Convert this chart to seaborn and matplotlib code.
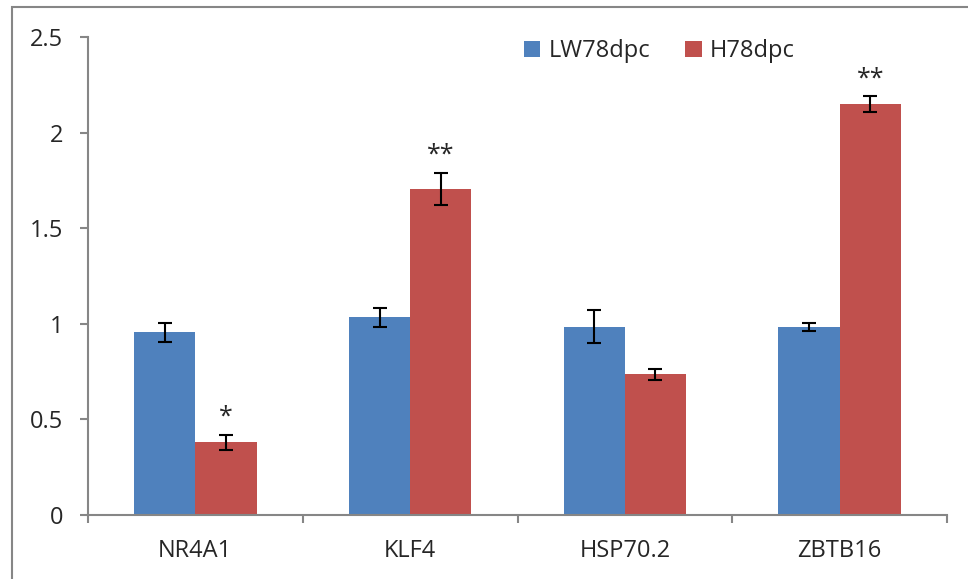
import matplotlib
matplotlib.use("Agg")
import matplotlib.pyplot as plt
import pandas as pd
import seaborn as sns
from matplotlib.patches import Rectangle

# values
genes = ["NR4A1", "KLF4", "HSP70.2", "ZBTB16"]
groups = ["LW78dpc", "H78dpc"]
lw_mean = [0.955, 1.035, 0.985, 0.982]
lw_err = [0.05, 0.05, 0.085, 0.02]
h_mean = [0.38, 1.705, 0.735, 2.15]
h_err = [0.04, 0.085, 0.028, 0.04]
h_stars = ["*", "**", "", "**"]

colors = ["#4F81BD", "#C0504D"]
grey = "#868686"

df = pd.DataFrame({
    "gene": genes * 2,
    "group": [groups[0]] * 4 + [groups[1]] * 4,
    "value": lw_mean + h_mean,
    "err": lw_err + h_err,
})

sns.set_style("white")
plt.rcParams["font.family"] = ["Open Sans", "DejaVu Sans"]

fig = plt.figure(figsize=(9.68, 5.79), dpi=100)
ax = fig.add_axes([88 / 968, 1 - 515 / 579, (947 - 88) / 968, (515 - 37) / 579])

sns.barplot(data=df, x="gene", y="value", hue="group", palette=colors,
            width=0.57, gap=0, errorbar=None, ax=ax, saturation=1,
            edgecolor="none")

# error bars placed on the bar centres that seaborn drew
for cont, sub in zip(ax.containers, [lw_err, h_err]):
    xs = [p.get_x() + p.get_width() / 2 for p in cont.patches]
    ys = [p.get_height() for p in cont.patches]
    ax.errorbar(xs, ys, yerr=sub, fmt="none", ecolor="black",
                elinewidth=1.5, capsize=5, capthick=1.5, zorder=5)

# significance stars over the H78dpc bars
for p, m, e, s in zip(ax.containers[1].patches, h_mean, h_err, h_stars):
    if s:
        ax.text(p.get_x() + p.get_width() / 2, m + e + 0.025, s,
                ha="center", va="bottom", fontsize=18)

ax.set_ylim(0, 2.5)
ax.set_xlim(-0.5, 3.5)
ax.set_yticks([0, 0.5, 1, 1.5, 2, 2.5])
ax.set_yticklabels(["0", "0.5", "1", "1.5", "2", "2.5"])
ax.set_xticks(range(4))
ax.set_xticks([-0.5, 0.5, 1.5, 2.5, 3.5], minor=True)
ax.set(xlabel=None, ylabel=None)

for side in ["top", "right"]:
    ax.spines[side].set_visible(False)
for side in ["left", "bottom"]:
    ax.spines[side].set_color(grey)
    ax.spines[side].set_linewidth(1.5)

ax.tick_params(axis="y", left=True, length=6, width=1.5, color=grey,
               labelsize=17, pad=12)
ax.tick_params(axis="x", which="major", length=0, labelsize=17, pad=17)
ax.tick_params(axis="x", which="minor", bottom=True, length=6, width=1.5,
               color=grey)

leg = ax.legend(loc="upper left", bbox_to_anchor=(0.507, 0.995), ncol=2,
                frameon=False, fontsize=17, handlelength=0.7,
                handleheight=0.7, columnspacing=1.5, handletextpad=0.35,
                borderaxespad=0, borderpad=0)

# outer chart frame (partly cut off in the reference)
fig.patches.append(Rectangle((12 / 968, -0.1), 1.2, (579 - 7) / 579 + 0.1,
                             transform=fig.transFigure, fill=False,
                             edgecolor=grey, linewidth=1.5))

fig.savefig("out.png", dpi=100)
